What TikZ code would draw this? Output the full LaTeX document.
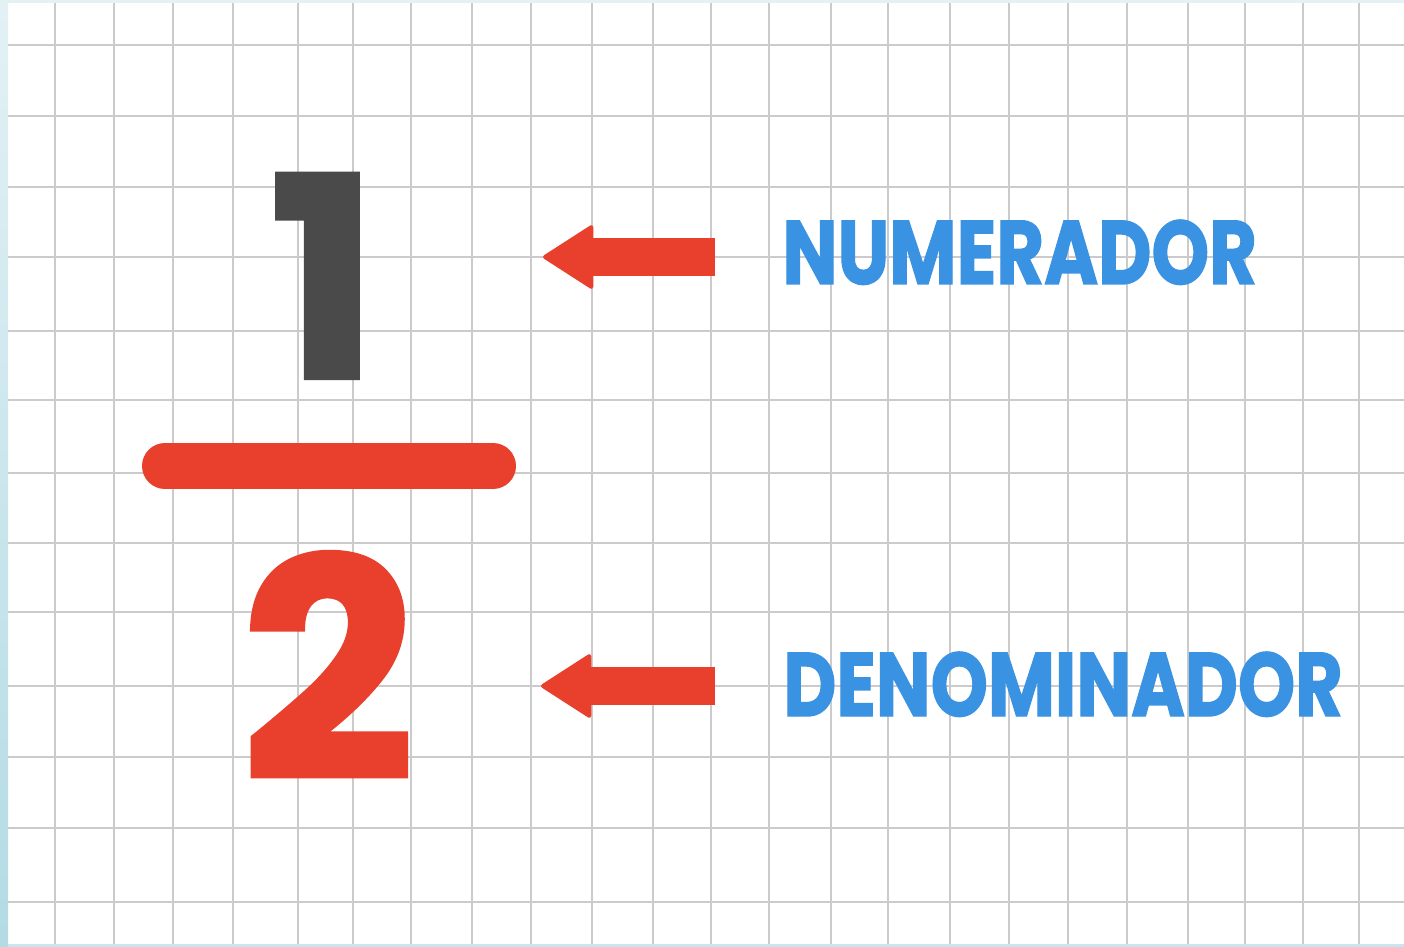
\documentclass[tikz,border=0pt]{standalone}
\usepackage{fontspec}
\usepackage{tikz}
\usetikzlibrary{arrows.meta}
\usepackage{xcolor}
\newfontfamily\fracfont{Poppins}[FakeBold=1.6]
\definecolor{fracred}{HTML}{E8402C}
\definecolor{labelblue}{HTML}{3A93E2}
\definecolor{onegray}{HTML}{4A4A4A}
\definecolor{gridgray}{HTML}{CBCBCB}
\definecolor{edgetop}{HTML}{E3F1F5}
\definecolor{edgebot}{HTML}{B3DBE4}

\begin{document}
\begin{tikzpicture}[
          x=0.5pt, y=-0.5pt,
          gline/.style={gridgray,line width=1pt},
          bigarrow/.style={fracred,line width=19pt,-{Triangle[length=26pt,width=33pt,line width=2pt,round]}},
          lbl/.style={anchor=base west,inner sep=0pt,text=labelblue,font=\fracfont\bfseries\fontsize{45}{45}\selectfont},
          digit/.style={anchor=base,inner sep=0pt,font=\fracfont\bfseries\fontsize{152}{152}\selectfont},
        ]
        \useasboundingbox (0,0) rectangle (1404,947);
        \fill[white] (0,0) rectangle (1404,947);
        % squared paper
        \foreach \gx in {55,114,173,233,298,353,411,472,531,592,653,711,769,831,888,950,1009,1068,1127,1188,1245,1303,1359}
          \draw[gline] (\gx,3) -- (\gx,945);
        \foreach \gy in {45,116,187,257,331,400,473,543,612,686,757,828,902}
          \draw[gline] (8,\gy) -- (1404,\gy);
        \shade[top color=edgetop,bottom color=edgebot] (0,0) rectangle (8,947);
        \fill[edgetop] (8,0) rectangle (1404,3);
        \fill[edgebot!70!white] (8,944) rectangle (1404,947);
        % fraction
        \node[digit,text=onegray] (one) at (324,378) {\scalebox{0.95}[0.92]{1}};
        \draw[fracred,line width=23pt,line cap=round] (165,466) -- (493,466);
        \node[digit,text=fracred] (two) at (328,779) {2};
        % labels
        \node[lbl] (numlbl) at (782,284) {\scalebox{0.815}[1]{NUMERADOR}};
        \node[lbl] (denlbl) at (783,716) {\scalebox{0.81}[1]{DENOMINADOR}};
        \coordinate (numtail) at (715,257);
        \coordinate (numtip) at (543,257);
        \coordinate (dentail) at (715,686);
        \coordinate (dentip) at (541,686);
        \draw[bigarrow] (numtail) -- (numtip);
        \draw[bigarrow] (dentail) -- (dentip);
      \end{tikzpicture}
\end{document}
